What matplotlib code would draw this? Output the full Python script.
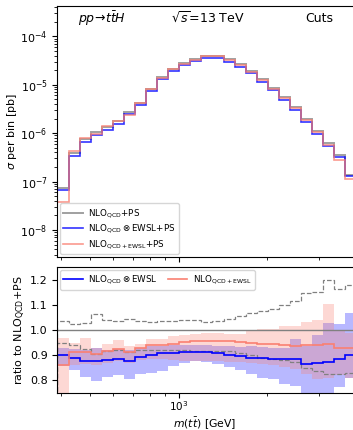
import numpy as np
import matplotlib
matplotlib.use("Agg")
import matplotlib.pyplot as plt
from matplotlib.ticker import NullFormatter, FixedLocator

# ---- data ----
bin_edges = [388.0, 423.5, 461.7, 503.4, 548.9, 598.4, 652.5, 711.4, 775.6, 845.7,
             922.0, 1005.3, 1096.1, 1195.1, 1303.0, 1420.7, 1549.0, 1688.9, 1841.4,
             2007.7, 2189.0, 2386.7, 2602.2, 2837.2, 3093.4, 3372.8, 3677.4, 4009.5]

sigma_nlo_ps = [7.3e-8, 3.9e-7, 7.5e-7, 1.05e-6, 1.33e-6, 1.8e-6, 2.8e-6, 4.2e-6, 8.2e-6,
                1.45e-5, 2.14e-5, 2.77e-5, 3.36e-5, 3.93e-5, 3.93e-5, 3.36e-5, 2.65e-5,
                1.93e-5, 1.30e-5, 8.7e-6, 5.5e-6, 3.43e-6, 1.95e-6, 1.13e-6, 6.2e-7,
                3.57e-7, 1.38e-7]
sigma_ewsl_mult_ps = [6.8e-8, 3.43e-7, 6.6e-7, 9.2e-7, 1.17e-6, 1.58e-6, 2.44e-6, 3.74e-6,
                      7.4e-6, 1.32e-5, 1.95e-5, 2.52e-5, 3.06e-5, 3.58e-5, 3.58e-5, 3.02e-5,
                      2.36e-5, 1.72e-5, 1.16e-5, 7.66e-6, 4.84e-6, 3.04e-6, 1.68e-6, 9.8e-7,
                      5.4e-7, 3.2e-7, 1.28e-7]
sigma_ewsl_add_ps = [3.8e-8, 4.2e-7, 7.9e-7, 9.6e-7, 1.38e-6, 1.75e-6, 2.33e-6, 4.1e-6,
                     8.1e-6, 1.4e-5, 2.07e-5, 2.7e-5, 3.3e-5, 3.95e-5, 3.95e-5, 3.3e-5,
                     2.55e-5, 1.85e-5, 1.24e-5, 8.2e-6, 5.2e-6, 3.25e-6, 1.85e-6, 1.07e-6,
                     5.8e-7, 2.85e-7, 1.12e-7]

ratio_mult = [0.900, 0.888, 0.876, 0.876, 0.880, 0.883, 0.876, 0.891, 0.902, 0.907, 0.909,
              0.912, 0.912, 0.911, 0.907, 0.902, 0.897, 0.890, 0.888, 0.885, 0.883, 0.886,
              0.863, 0.867, 0.872, 0.883, 0.900]
ratio_mult_up = [0.930, 0.925, 0.922, 0.927, 0.922, 0.924, 0.920, 0.930, 0.935, 0.938, 0.939,
                 0.942, 0.942, 0.941, 0.938, 0.936, 0.934, 0.935, 0.933, 0.930, 0.930, 0.963,
                 0.935, 0.979, 1.027, 1.023, 1.066]
ratio_mult_dn = [0.856, 0.840, 0.814, 0.796, 0.813, 0.820, 0.806, 0.823, 0.829, 0.836, 0.855,
                 0.868, 0.877, 0.874, 0.864, 0.852, 0.842, 0.826, 0.810, 0.803, 0.785, 0.778,
                 0.700, 0.700, 0.700, 0.772, 0.808]

ratio_add = [0.860, 0.912, 0.914, 0.903, 0.918, 0.923, 0.913, 0.930, 0.939, 0.942, 0.946,
             0.952, 0.956, 0.958, 0.957, 0.955, 0.952, 0.947, 0.945, 0.944, 0.941, 0.938,
             0.939, 0.939, 0.943, 0.929, 0.929]
ratio_add_up = [0.967, 0.950, 0.967, 0.930, 0.943, 0.959, 0.936, 0.946, 0.963, 0.965, 0.976,
                0.979, 0.985, 0.987, 0.989, 0.986, 0.984, 0.995, 1.003, 1.003, 1.015, 1.015,
                1.030, 1.040, 1.103, 1.000, 0.990]
ratio_add_dn = [0.700, 0.862, 0.865, 0.860, 0.870, 0.875, 0.870, 0.880, 0.885, 0.885, 0.880,
                0.878, 0.876, 0.876, 0.876, 0.874, 0.872, 0.868, 0.864, 0.860, 0.852, 0.846,
                0.823, 0.803, 0.810, 0.820, 0.810]

scale_up = [1.036, 1.024, 1.027, 1.063, 1.038, 1.036, 1.042, 1.037, 1.031, 1.034, 1.037,
            1.039, 1.039, 1.031, 1.034, 1.045, 1.054, 1.066, 1.075, 1.085, 1.100, 1.115,
            1.148, 1.150, 1.198, 1.165, 1.180]
scale_dn = [0.949, 0.941, 0.924, 0.905, 0.916, 0.921, 0.914, 0.920, 0.922, 0.922, 0.920,
            0.919, 0.918, 0.918, 0.918, 0.915, 0.907, 0.899, 0.890, 0.886, 0.880, 0.873,
            0.849, 0.835, 0.823, 0.825, 0.828]

lbl_nlo_ps = r"NLO$_{\rm QCD}$+PS"
lbl_mult_ps = r"NLO$_{\rm QCD}\otimes$EWSL+PS"
lbl_add_ps = r"NLO$_{\rm QCD+EWSL}$+PS"
lbl_mult = r"NLO$_{\rm QCD}\otimes$EWSL"
lbl_add = r"NLO$_{\rm QCD+EWSL}$"

# ---- figure ----
W, H = 353, 430
fig = plt.figure(figsize=(W / 100, H / 100), dpi=100)

def frac(x0, y0, x1, y1):
    return [x0 / W, 1 - y1 / H, (x1 - x0) / W, (y1 - y0) / H]

ax1 = fig.add_axes(frac(57.3, 5.7, 356.5, 256.7))
ax2 = fig.add_axes(frac(57.3, 267.3, 356.5, 392.7))
AXW = 356.5 - 57.3
AX2H = 392.7 - 267.3

GRAY = "#808080"
BLUE = "#0000ff"
RED = "#fa8072"

ax1.stairs(sigma_nlo_ps, bin_edges, color=GRAY, lw=1.4, alpha=0.75, label=lbl_nlo_ps)
ax1.stairs(sigma_ewsl_mult_ps, bin_edges, color=BLUE, lw=1.2, alpha=0.8, label=lbl_mult_ps)
ax1.stairs(sigma_ewsl_add_ps, bin_edges, color=RED, lw=1.2, alpha=0.8, label=lbl_add_ps)
ax1.set_xscale("log")
ax1.set_yscale("log")
ax1.set_xlim(388, 4009.5)
ax1.set_ylim(2.8e-9, 4.3e-4)
ax1.set_ylabel(r"$\sigma$ per bin [pb]", fontsize=8)
ax1.yaxis.set_label_coords((18.5 - 57.3) / AXW, 0.5)
ax1.tick_params(labelbottom=False, labelsize=8)
ax1.xaxis.set_minor_formatter(NullFormatter())
ax1.text(0.07, 0.95, r"$pp\!\to\! t\bar{t}H$", transform=ax1.transAxes, fontsize=9, va="center")
ax1.text(0.38, 0.95, r"$\sqrt{s}$=13 TeV", transform=ax1.transAxes, fontsize=9, va="center")
ax1.text(0.83, 0.95, "Cuts", transform=ax1.transAxes, fontsize=9, va="center")
ax1.legend(loc="lower left", fontsize=6.3, borderaxespad=0.3, handlelength=2.2,
           labelspacing=0.3, borderpad=0.4, handletextpad=0.6)

# ratio panel
ax2.stairs(ratio_mult_up, bin_edges, baseline=ratio_mult_dn, fill=True, color=BLUE, alpha=0.28, lw=0)
ax2.stairs(ratio_add_up, bin_edges, baseline=ratio_add_dn, fill=True, color=RED, alpha=0.3, lw=0)
ax2.stairs(scale_up, bin_edges, color=GRAY, lw=0.9, ls="--")
ax2.stairs(scale_dn, bin_edges, color=GRAY, lw=0.9, ls="--")
ax2.axhline(1.0, color=GRAY, lw=1.0)
ax2.stairs(ratio_mult, bin_edges, color=BLUE, lw=1.2, label=lbl_mult)
ax2.stairs(ratio_add, bin_edges, color=RED, lw=1.2, label=lbl_add)
ax2.set_xscale("log")
ax2.set_xlim(388, 4009.5)
ax2.set_ylim(0.75, 1.25)
ax2.yaxis.set_major_locator(FixedLocator([0.8, 0.9, 1.0, 1.1, 1.2]))
ax2.xaxis.set_minor_formatter(NullFormatter())
ax2.tick_params(axis="y", labelsize=8)
ax2.tick_params(axis="x", labelsize=7.5, pad=1)
ax2.set_ylabel(r"ratio to NLO$_{\rm QCD}$+PS", fontsize=8)
ax2.yaxis.set_label_coords((28.0 - 57.3) / AXW, 0.5)
ax2.set_xlabel(r"$m(t\bar{t})$ [GeV]", fontsize=7.8)
ax2.xaxis.set_label_coords((205 - 57.3) / AXW, -(415.0 - 392.7) / AX2H)
ax2.legend(loc="upper left", ncol=2, fontsize=6.3, borderaxespad=0.3, handlelength=2.2,
           columnspacing=1.2, borderpad=0.4, handletextpad=0.6)

for ax in (ax1, ax2):
    ax.spines["right"].set_visible(False)

fig.savefig("out.png", dpi=100)
